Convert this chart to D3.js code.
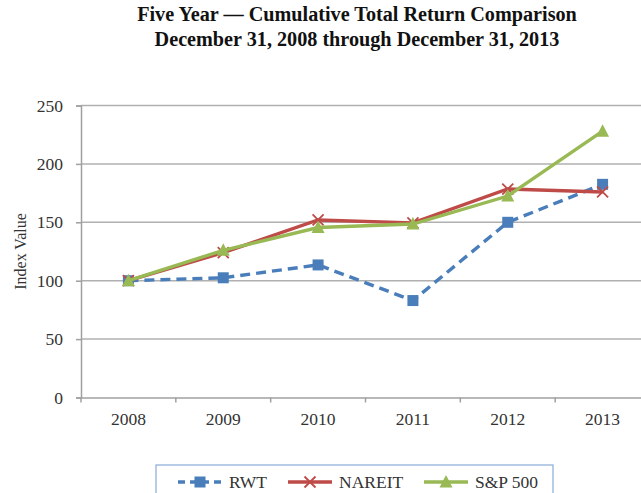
<!DOCTYPE html>
<html><head><meta charset="utf-8">
<script src="https://cdn.jsdelivr.net/npm/d3@7"></script>
<style>body{margin:0;background:#fff}svg{display:block}</style>
</head><body>
<svg id="c" width="641" height="493"></svg>
<script>
const years = ["2008","2009","2010","2011","2012","2013"];
const rwt = [100, 102.5, 113.5, 83, 150, 182.5];
const nareit = [100, 124, 152, 149.5, 178.5, 176];
const sp500 = [100, 126, 145.5, 148.5, 172.5, 228];
const yTicks = [0, 50, 100, 150, 200, 250];
const seriesNames = ["RWT", "NAREIT", "S&P 500"];
const titleLines = ["Five Year \u2014 Cumulative Total Return Comparison", "December 31, 2008 through December 31, 2013"];

const series = [
  {name: seriesNames[0], values: rwt, color: "#4a7ebb", dash: "10,6", marker: "square"},
  {name: seriesNames[1], values: nareit, color: "#be4b48", dash: null, marker: "x"},
  {name: seriesNames[2], values: sp500, color: "#98b954", dash: null, marker: "triangle"}
];

const svg = d3.select("#c");
const serif = "'Liberation Serif','Times New Roman',serif";
const m = {left: 81, top: 105.5, bottom: 397.5};
const plotW = 569;
const x = d3.scaleBand().domain(years).range([m.left, m.left + plotW]);
const y = d3.scaleLinear().domain([0, 250]).range([m.bottom, m.top]);

// title
svg.selectAll("text.title").data(titleLines).enter().append("text")
  .attr("x", 357).attr("y", (d,i) => 21 + i*24.5)
  .attr("text-anchor", "middle").attr("font-family", serif)
  .attr("font-weight", "bold").attr("font-size", 20.2).attr("fill", "#111")
  .text(d => d);

// gridlines
svg.append("g").selectAll("line").data(yTicks.slice(1)).enter().append("line")
  .attr("x1", m.left).attr("x2", m.left + plotW)
  .attr("y1", d => y(d)).attr("y2", d => y(d))
  .attr("stroke", "#b0b0b0").attr("stroke-width", 1.5);

// y axis
const ya = svg.append("g").attr("transform", `translate(${m.left},0)`)
  .call(d3.axisLeft(y).tickValues(yTicks).tickSize(5).tickPadding(13));
ya.select(".domain").attr("stroke", "#a0a0a0").attr("stroke-width", 1.5);
ya.selectAll(".tick line").attr("stroke", "#a0a0a0").attr("stroke-width", 1.5);
ya.selectAll("text").attr("font-family", serif).attr("font-size", 17.5).attr("fill", "#333");

// x axis
const xa = svg.append("g").attr("transform", `translate(0,${m.bottom})`)
  .call(d3.axisBottom(x).tickSize(0).tickPadding(15));
xa.select(".domain").attr("stroke", "#a0a0a0").attr("stroke-width", 1.5);
xa.selectAll("text").attr("font-family", serif).attr("font-size", 17.5).attr("fill", "#333");
xa.selectAll("line.tk").data(d3.range(years.length + 1)).enter().append("line")
  .attr("x1", i => m.left + i * x.step()).attr("x2", i => m.left + i * x.step())
  .attr("y1", 0).attr("y2", 5).attr("stroke", "#a0a0a0").attr("stroke-width", 1.5);

// y label
svg.append("text").attr("transform", `translate(26,${(m.top + m.bottom)/2}) rotate(-90)`)
  .attr("text-anchor", "middle").attr("font-family", serif).attr("font-size", 16).attr("fill", "#333")
  .text("Index Value");

const cx = d => x(d) + x.bandwidth()/2;
const line = d3.line().x((v,i) => cx(years[i])).y(v => y(v));

function drawMarker(g, type, color) {
  if (type === "square") {
    g.append("rect").attr("x", -5.5).attr("y", -5.5).attr("width", 11).attr("height", 11).attr("fill", color);
  } else if (type === "x") {
    g.append("path").attr("d", "M-5.5,-5.5L5.5,5.5M-5.5,5.5L5.5,-5.5").attr("stroke", color).attr("stroke-width", 1.8).attr("fill", "none");
  } else {
    g.append("path").attr("d", "M0,-7L6.5,5.5L-6.5,5.5Z").attr("fill", color);
  }
}

series.forEach(s => {
  svg.append("path").datum(s.values).attr("d", line).attr("fill", "none")
    .attr("stroke", s.color).attr("stroke-width", 3.4)
    .attr("stroke-dasharray", s.dash);
  s.values.forEach((v,i) => {
    const g = svg.append("g").attr("transform", `translate(${cx(years[i])},${y(v)})`);
    drawMarker(g, s.marker, s.color);
  });
});

// legend
svg.append("rect").attr("x", 156).attr("y", 465).attr("width", 397).attr("height", 40)
  .attr("fill", "#fff").attr("stroke", "#8aaad8").attr("stroke-width", 1.2);
const legX = [178, 288, 424];
const legY = 482;
series.forEach((s, i) => {
  const lx = legX[i];
  svg.append("line").attr("x1", lx).attr("x2", lx + 44).attr("y1", legY).attr("y2", legY)
    .attr("stroke", s.color).attr("stroke-width", 3.4).attr("stroke-dasharray", s.dash ? "7,5" : null);
  const g = svg.append("g").attr("transform", `translate(${lx + 22},${legY})`);
  drawMarker(g, s.marker, s.color);
  svg.append("text").attr("x", lx + 51).attr("y", legY + 6).attr("font-family", serif)
    .attr("font-size", 17.5).attr("fill", "#333").text(s.name);
});
</script>
</body></html>
